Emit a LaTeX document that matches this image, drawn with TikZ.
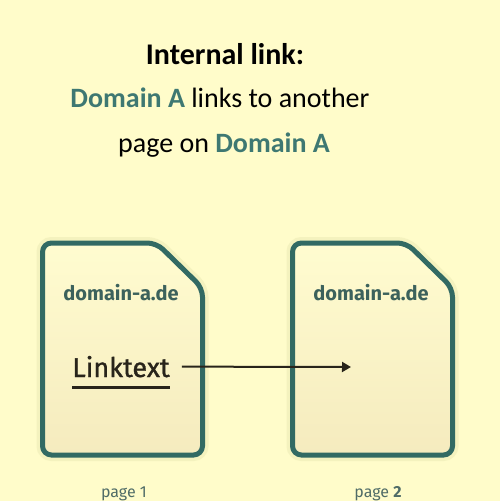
\documentclass[tikz,border=0pt]{standalone}
\usepackage{fontspec}
\usepackage{xcolor}
\setmainfont{Carlito}
\newfontfamily\docfont{Fira Sans}
\newfontfamily\linkfont[FakeBold=1.2]{Fira Sans}
\usetikzlibrary{arrows.meta}

\definecolor{bgyellow}{RGB}{255,252,202}
\definecolor{pagetop}{RGB}{255,252,208}
\definecolor{pagebot}{RGB}{245,235,190}
\definecolor{glow}{RGB}{225,225,170}
\definecolor{borderteal}{RGB}{50,106,99}
\definecolor{domteal}{RGB}{62,120,114}
\definecolor{urlteal}{RGB}{60,98,92}
\definecolor{labelgrey}{RGB}{80,108,103}
\definecolor{inkbrown}{RGB}{40,36,26}

\begin{document}
\begin{tikzpicture}[x=1pt,y=-1pt,
  headline/.style={anchor=base, inner sep=0, font=\fontsize{28}{33}\selectfont},
  urltext/.style={anchor=base, inner sep=0, text=urlteal, font=\docfont\bfseries\fontsize{20}{24}\selectfont},
  pagelabel/.style={anchor=base, inner sep=0, text=labelgrey, font=\docfont\fontsize{16}{19}\selectfont}]

\useasboundingbox[fill=bgyellow] (0,0) rectangle (500,501);

% heading
\node[headline, font=\fontsize{30}{35}\selectfont\bfseries] (title) at (225,64) {Internal link:};
\node[headline] (line2) at (220,107) {\textcolor{domteal}{\textbf{Domain A}} links to another};
\node[headline] (line3) at (224,152) {page on \textcolor{domteal}{\textbf{Domain A}}};

% the two pages
\foreach \x in {42.5,292.5}{

	\draw[glow, line width=12, opacity=0.35, rounded corners=9]
	(\x,350)--(\x,243)--(\x+114,243)--(\x+160,288)--(\x+160,455)--(\x,455)--cycle;
	\draw[borderteal, line width=5, top color=pagetop, bottom color=pagebot, rounded corners=9]
	(\x,350)--(\x,243)--(\x+114,243)--(\x+160,288)--(\x+160,455)--(\x,455)--cycle;

}

\node[urltext] (url1) at (121,300) {domain-a.de};
\node[urltext] (url2) at (371,300) {domain-a.de};

% link text and arrow
\node[anchor=base, inner sep=0, text=inkbrown, font=\linkfont\fontsize{27}{32}\selectfont] (link) at (121,377) {Linktext};
\draw[inkbrown, line width=3] ([yshift=-10pt]link.base west)--([yshift=-10pt]link.base east);
\coordinate (target) at (351,367);
\draw[-{Triangle[length=9pt,width=10pt]}, inkbrown, line width=2] ([xshift=12pt]link.east)--(target);

\node[pagelabel] (page1) at (124,497) {page 1};
\node[pagelabel] (page2) at (378,497) {page \textbf{2}};

\end{tikzpicture}
\end{document}
